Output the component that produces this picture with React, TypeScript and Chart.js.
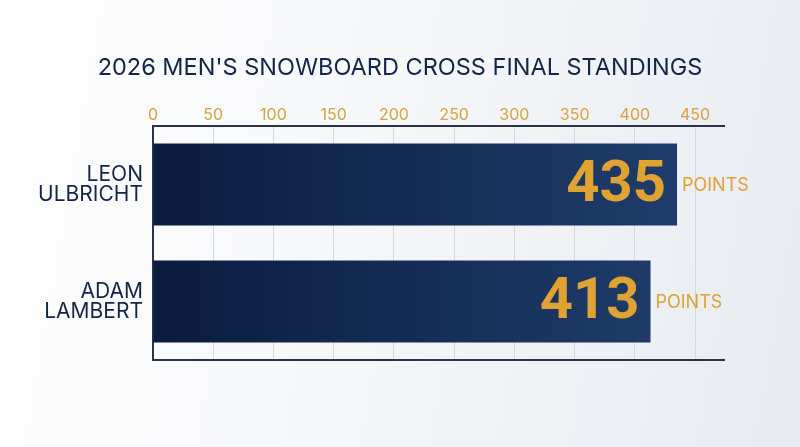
import { useEffect, useRef } from "react";
import { Chart, registerables } from "chart.js";

Chart.register(...registerables);

const chartTitle = "2026 MEN'S SNOWBOARD CROSS FINAL STANDINGS";
const athletes = [["LEON", "ULBRICHT"], ["ADAM", "LAMBERT"]];
const points = [435, 413];
const axisMax = 474;
const tickStep = 50;
const unitLabel = "POINTS";

const gold = "#e0a230";
const navy = "#14254a";
const sans = "Inter, 'Noto Sans', sans-serif";

// title centred on the whole canvas, not on the padded box
const centredTitle = {
  id: "centredTitle",
  afterDraw(chart: Chart) {
    const { ctx, width } = chart;
    ctx.save();
    ctx.fillStyle = navy;
    ctx.font = `23.5px ${sans}`;
    ctx.textAlign = "center";
    ctx.textBaseline = "middle";
    ctx.fillText(chartTitle, width / 2, 68);
    ctx.restore();
  },
};

const valueLabels = {
  id: "valueLabels",
  afterDatasetsDraw(chart: Chart) {
    const { ctx } = chart;
    const meta = chart.getDatasetMeta(0);
    ctx.save();
    meta.data.forEach((bar: any, i: number) => {
      ctx.textBaseline = "middle";
      ctx.fillStyle = gold;
      ctx.font = "bold 58px Roboto, Inter, sans-serif";
      ctx.textAlign = "right";
      ctx.fillText(String(points[i]), bar.x - 11, bar.y + 2);
      ctx.font = `18px ${sans}`;
      ctx.textAlign = "left";
      ctx.fillText(unitLabel, bar.x + 5, bar.y + 1);
    });
    ctx.restore();
  },
};

export default function App() {
  const canvasRef = useRef<HTMLCanvasElement>(null);
  const chartRef = useRef<Chart | null>(null);

  useEffect(() => {
    document.body.style.margin = "0";
    if (!canvasRef.current) return;

    chartRef.current?.destroy();
    chartRef.current = new Chart(canvasRef.current, {
      type: "bar",
      data: {
        labels: athletes,
        datasets: [
          {
            data: points,
            backgroundColor: (c: any) => {
              const area = c.chart.chartArea;
              if (!area) return "#0b1f44";
              const g = c.chart.ctx.createLinearGradient(area.left, 0, area.right, 0);
              g.addColorStop(0, "#0a1c3f");
              g.addColorStop(1, "#21406f");
              return g;
            },
            borderWidth: 0,
            barPercentage: 0.7,
            categoryPercentage: 1,
          },
        ],
      },
      options: {
        indexAxis: "y",
        animation: false,
        responsive: true,
        maintainAspectRatio: false,
        layout: { padding: { left: 0, right: 76, top: 96, bottom: 87 } },
        plugins: {
          legend: { display: false },
          tooltip: { enabled: false },
        },
        scales: {
          x: {
            position: "top",
            min: 0,
            max: axisMax,
            afterFit: (s: any) => {
              s.height = 30;
            },
            ticks: {
              stepSize: tickStep,
              includeBounds: false,
              color: "#d9a23c",
              padding: 1,
              font: { family: sans, size: 16 },
            },
            grid: { color: "#d3d8df", drawTicks: false },
            border: { color: "#2a3446", width: 2 },
          },
          xb: {
            type: "linear",
            axis: "x",
            position: "bottom",
            min: 0,
            max: axisMax,
            afterFit: (s: any) => {
              s.height = 0;
            },
            ticks: { display: false },
            grid: { display: false, drawTicks: false },
            border: { color: "#2a3446", width: 2 },
          },
          y: {
            afterFit: (s: any) => {
              s.width = 153;
            },
            ticks: {
              color: navy,
              padding: 10,
              font: { family: sans, size: 21, lineHeight: 0.97 },
            },
            grid: { display: false, drawTicks: false },
            border: { color: "#2a3446", width: 2 },
          },
        },
      },
      plugins: [valueLabels, centredTitle],
    });

    return () => chartRef.current?.destroy();
  }, []);

  return (
    <div
      style={{
        width: 800,
        height: 447,
        position: "relative",
        background: "linear-gradient(100deg, #ffffff 0%, #f6f7f9 45%, #e7ebf1 100%)",
      }}
    >
      <canvas ref={canvasRef} />
    </div>
  );
}
